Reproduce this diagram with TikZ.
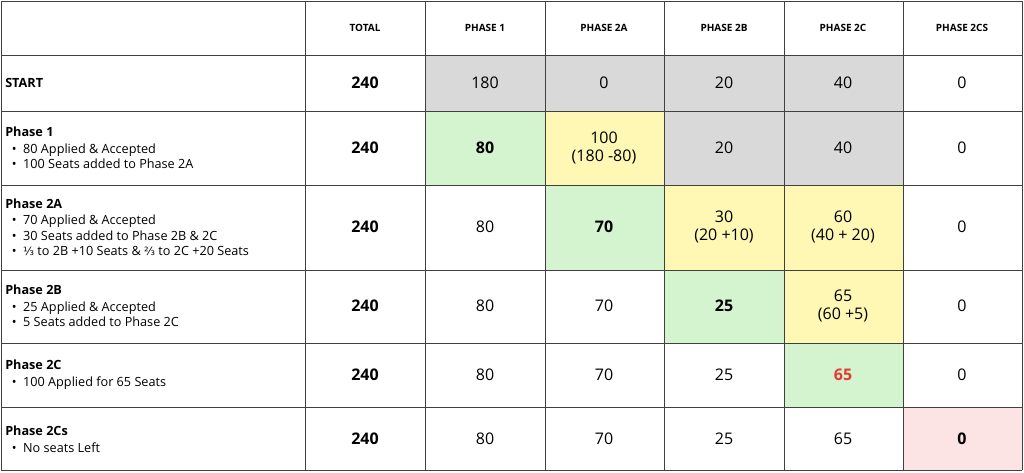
\documentclass[tikz,border=0pt]{standalone}
\usepackage{fontspec}
\setmainfont{Open Sans}
\newfontfamily\dv{DejaVu Sans}
\definecolor{cgray}{HTML}{D9D9D9}
\definecolor{cgreen}{HTML}{D3F4CE}
\definecolor{cyellow}{HTML}{FEF8B4}
\definecolor{cpink}{HTML}{FDE4E4}
\definecolor{cred}{HTML}{E53935}
\begin{document}
\begin{tikzpicture}[x=0.75pt,y=-0.75pt,
  hd/.style={font=\fontsize{7.5}{9}\selectfont\bfseries},
  num/.style={font=\fontsize{12}{14}\selectfont,align=center},
  tot/.style={font=\fontsize{12}{14}\selectfont\bfseries},
  lab/.style={font=\fontsize{9.5}{11.5}\selectfont,align=left,anchor=west,inner sep=0pt},
  grid/.style={draw=black!75,line width=0.6pt}]
\useasboundingbox (0,0) rectangle (1024,473);
% fills
\fill[cgray] (425,55) rectangle (903,111);
\fill[cgray] (664,111) rectangle (903,185);
\fill[cgreen] (425,111) rectangle (545,185);
\fill[cyellow] (545,111) rectangle (664,185);
\fill[cgreen] (545,185) rectangle (664,270);
\fill[cyellow] (664,185) rectangle (903,270);
\fill[cgreen] (664,270) rectangle (784,343);
\fill[cyellow] (784,270) rectangle (903,343);
\fill[cgreen] (784,343) rectangle (903,407);
\fill[cpink] (903,407) rectangle (1022,470);
% grid
\foreach \x in {1,305,425,545,664,784,903,1022} \draw[grid] (\x,1) -- (\x,470);
\foreach \y in {1,55,111,185,270,343,407,470} \draw[grid] (1,\y) -- (1022,\y);
% headers
\node[hd] (h1) at (365,28) {TOTAL};
\node[hd] (h2) at (485,28) {PHASE 1};
\node[hd] (h3) at (604,28) {PHASE 2A};
\node[hd] (h4) at (724,28) {PHASE 2B};
\node[hd] (h5) at (843,28) {PHASE 2C};
\node[hd] (h6) at (962,28) {PHASE 2CS};
% row labels
\node[lab] (r0) at (5,83) {\bfseries START};
\node[lab] (r1) at (5,148) {\textbf{Phase 1}\\[1pt]\ \ \textbullet\ \ 80 Applied \& Accepted\\\ \ \textbullet\ \ 100 Seats added to Phase 2A};
\node[lab] (r2) at (5,227) {\textbf{Phase 2A}\\[1pt]\ \ \textbullet\ \ 70 Applied \& Accepted\\\ \ \textbullet\ \ 30 Seats added to Phase 2B \& 2C\\\ \ \textbullet\ \ {\dv\fontsize{8.5}{10}\selectfont ⅓} to 2B +10 Seats \& {\dv\fontsize{8.5}{10}\selectfont ⅔} to 2C +20 Seats};
\node[lab] (r3) at (5,306) {\textbf{Phase 2B}\\[1pt]\ \ \textbullet\ \ 25 Applied \& Accepted\\\ \ \textbullet\ \ 5 Seats added to Phase 2C};
\node[lab] (r4) at (5,375) {\textbf{Phase 2C}\\[1pt]\ \ \textbullet\ \ 100 Applied for 65 Seats};
\node[lab] (r5) at (5,439) {\textbf{Phase 2Cs}\\[1pt]\ \ \textbullet\ \ No seats Left};
% totals
\foreach \y/\n in {83/t0,148/t1,227/t2,306/t3,375/t4,439/t5} \node[tot] (\n) at (365,\y) {240};
% row START
\node[num] (a1) at (485,83) {180};
\node[num] (a2) at (604,83) {0};
\node[num] (a3) at (724,83) {20};
\node[num] (a4) at (843,83) {40};
\node[num] (a5) at (962,83) {0};
% Phase 1
\node[num] (b1) at (485,148) {\bfseries 80};
\node[num] (b2) at (604,148) {100\\(180 -80)};
\node[num] (b3) at (724,148) {20};
\node[num] (b4) at (843,148) {40};
\node[num] (b5) at (962,148) {0};
% Phase 2A
\node[num] (c1) at (485,227) {80};
\node[num] (c2) at (604,227) {\bfseries 70};
\node[num] (c3) at (724,227) {30\\(20 +10)};
\node[num] (c4) at (843,227) {60\\(40 + 20)};
\node[num] (c5) at (962,227) {0};
% Phase 2B
\node[num] (d1) at (485,306) {80};
\node[num] (d2) at (604,306) {70};
\node[num] (d3) at (724,306) {\bfseries 25};
\node[num] (d4) at (843,306) {65\\(60 +5)};
\node[num] (d5) at (962,306) {0};
% Phase 2C
\node[num] (e1) at (485,375) {80};
\node[num] (e2) at (604,375) {70};
\node[num] (e3) at (724,375) {25};
\node[num,text=cred] (e4) at (843,375) {\bfseries 65};
\node[num] (e5) at (962,375) {0};
% Phase 2Cs
\node[num] (f1) at (485,439) {80};
\node[num] (f2) at (604,439) {70};
\node[num] (f3) at (724,439) {25};
\node[num] (f4) at (843,439) {65};
\node[num] (f5) at (962,439) {\bfseries 0};
\end{tikzpicture}
\end{document}
